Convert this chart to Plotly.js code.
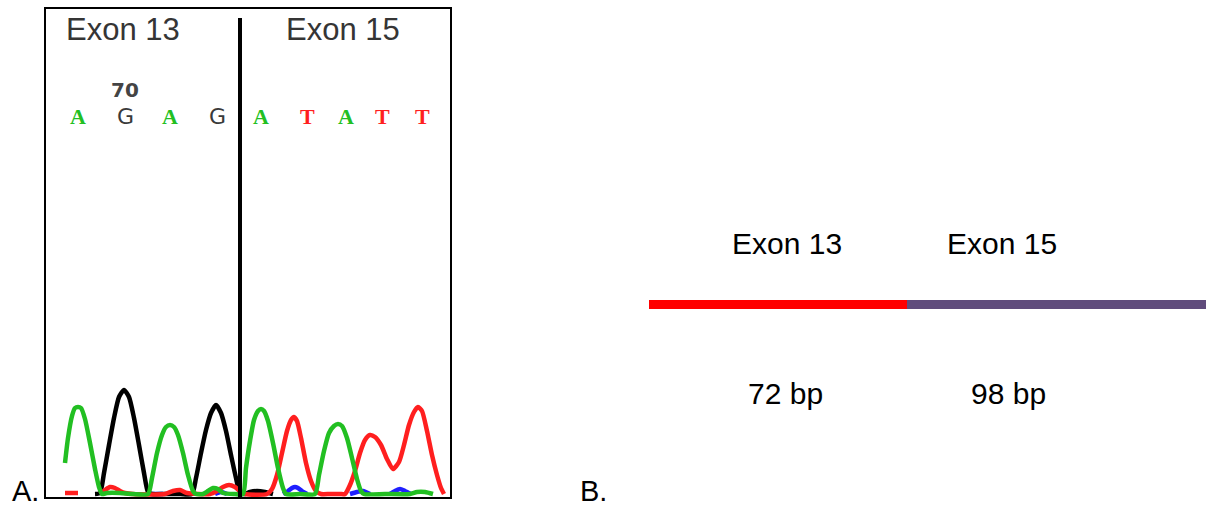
<!DOCTYPE html>
<html>
<head>
<meta charset="utf-8">
<script src="https://cdn.plot.ly/plotly-3.0.1.min.js"></script>
<style>
  html, body { margin: 0; padding: 0; background: #fff; }
  #chart { width: 1206px; height: 507px; }
</style>
</head>
<body>
<div id="chart"></div>
<script>
// ---- Panel A: sequencing trace across the exon 13 / exon 15 junction ----
// Dye channels: scan position vs. signal intensity (null = gap in the trace)
const greenScan   = [20, 23, 27, 30, 33, 36, 40, 45, 50, 54, 57, 62, 75, 88,
                     103, 107, 112, 117, 121, 125, 129, 133, 138, 143, 148, 151,
                     158, 163, 168, 173, 178, 190,
                     198, 201, 205, 209, 213, 216, 219, 223, 228, 233, 238, 241,
                     255, 270, 274, 279, 284, 289, 293, 297, 302, 307, 312, 316, 319,
                     340, 365, 372, 380, 388];
const greenSignal = [31, 56, 78, 86, 87, 86, 75, 51, 25, 7, 0, 1, 1, 0,
                     0, 16, 41, 59, 67, 69, 67, 59, 41, 19, 3, 0,
                     0, 3, 6, 5, 1, 0,
                     0, 26, 53, 74, 83, 85, 83, 73, 51, 26, 6, 0,
                     0, 0, 19, 43, 61, 68, 70, 68, 56, 36, 15, 3, 0,
                     0, 0, 2, 2, 0];

const blackScan   = [50, 55, 59, 64, 69, 74, 79, 84, 89, 94, 99, 103, 107,
                     120, 135,
                     147, 151, 156, 161, 166, 171, 176, 181, 186, 191, 195, 200,
                     205, 212, 220, 228];
const blackSignal = [0, 1, 21, 49, 76, 97, 104, 97, 76, 49, 21, 2, 0,
                     0, 0,
                     0, 16, 41, 64, 81, 89, 81, 63, 39, 16, 1, 0,
                     2, 3, 2, 0];

const redScan     = [20, 33, null,
                     55, 60, 65, 70, 75, 80, 88,
                     120, 128, 135, 142,
                     165, 172, 178, 184, 190, 195, 200,
                     222, 227, 232, 237, 242, 246, 249, 252, 256, 261, 266, 271, 276,
                     285, 295,
                     300, 305, 310, 315, 320, 325, 330, 336, 342, 348, 354, 359, 364, 369,
                     373, 377, 382, 387, 392, 396, 399];
const redSignal   = [1, 1, null,
                     0, 4, 7, 6, 3, 1, 0,
                     0, 3, 4, 1,
                     0, 3, 7, 9, 7, 3, 0,
                     0, 5, 19, 41, 63, 74, 77, 73, 56, 31, 13, 3, 0,
                     0, 0,
                     0, 9, 23, 41, 54, 59, 57, 49, 35, 25, 32, 49, 69, 82,
                     87, 83, 63, 39, 19, 6, 0];

const blueScan    = [105, 118, null,
                     170, 176, 182, null,
                     238, 243, 247, 250, 253, 257, 262, null,
                     305, 312, 318, 325, null,
                     345, 350, 355, 360, 366];
const blueSignal  = [0, 0, null,
                     0, 2, 0, null,
                     0, 3, 6, 7, 6, 3, 0, null,
                     0, 2, 3, 0, null,
                     0, 3, 5, 3, 0];

// Base calls and their scan positions
const baseCalls = ['A', 'G', 'A', 'G', 'A', 'T', 'A', 'T', 'T'];
const callScan  = [33, 80, 125, 172, 216, 262, 301, 337, 377];
const baseNumber = 70;          // numbering shown above the second call
const junctionScan = 195;       // exon 13 / exon 15 boundary

// ---- Panel B: fused transcript segments ----
const exonNames   = ['Exon 13', 'Exon 15'];
const exonLengths = [72, 98];   // bp

const dyeColor = { A: '#22bf22', G: '#3a3a3a', T: '#ff1f1f', C: '#1f1fff' };

function traceLine(x, y, color) {
  return {
    type: 'scatter', mode: 'lines', x: x, y: y,
    xaxis: 'x', yaxis: 'y',
    line: { color: color, width: 4.5, shape: 'spline', smoothing: 0.6 },
    connectgaps: false, hoverinfo: 'skip'
  };
}

const data = [
  traceLine(blueScan, blueSignal, dyeColor.C),
  traceLine(blackScan, blackSignal, '#000000'),
  traceLine(redScan, redSignal, dyeColor.T),
  traceLine(greenScan, greenSignal, dyeColor.A)
];

// Exon segments laid end to end
const exonColors = ['#ff0000', '#604c7c'];
let start = 0;
exonLengths.forEach(function (len, i) {
  data.push({
    type: 'scatter', mode: 'lines',
    x: [start, start + len], y: [0, 0],
    xaxis: 'x2', yaxis: 'y2',
    line: { color: exonColors[i], width: 9 },
    hoverinfo: 'skip'
  });
  start += len;
});

const annotations = [];

// Base call letters
baseCalls.forEach(function (b, i) {
  const serif = (b === 'A' || b === 'T');
  annotations.push({
    xref: 'x', yref: 'y', x: callScan[i], y: 377,
    text: serif ? '<b>' + b + '</b>' : b,
    showarrow: false, xanchor: 'center', yanchor: 'middle',
    font: {
      family: serif ? 'Liberation Serif' : 'DejaVu Sans',
      size: 22, color: dyeColor[b]
    }
  });
});
annotations.push({
  xref: 'x', yref: 'y', x: callScan[1], y: 404,
  text: '<b>' + baseNumber + '</b>', showarrow: false,
  xanchor: 'center', yanchor: 'middle',
  font: { family: 'DejaVu Sans', size: 20, color: '#444444' }
});

// Exon headings over the trace
const W = 1206, H = 507;
function px(x) { return x / W; }
function py(y) { return (H - y) / H; }
[[123, exonNames[0]], [343, exonNames[1]]].forEach(function (p) {
  annotations.push({
    xref: 'paper', yref: 'paper', x: px(p[0]), y: py(30),
    text: p[1], showarrow: false, xanchor: 'center', yanchor: 'middle',
    font: { family: 'Liberation Sans', size: 31, color: '#353535' }
  });
});

// Panel B labels
[[787, exonNames[0]], [1002, exonNames[1]]].forEach(function (p) {
  annotations.push({
    xref: 'paper', yref: 'paper', x: px(p[0]), y: py(243),
    text: p[1], showarrow: false, xanchor: 'center', yanchor: 'middle',
    font: { family: 'Liberation Sans', size: 30, color: '#000000' }
  });
});
[[785, exonLengths[0]], [1008, exonLengths[1]]].forEach(function (p) {
  annotations.push({
    xref: 'paper', yref: 'paper', x: px(p[0]), y: py(393),
    text: p[1] + ' bp', showarrow: false, xanchor: 'center', yanchor: 'middle',
    font: { family: 'Liberation Sans', size: 30, color: '#000000' }
  });
});

// Panel letters
[[25, 'A.'], [593, 'B.']].forEach(function (p) {
  annotations.push({
    xref: 'paper', yref: 'paper', x: px(p[0]), y: py(491),
    text: p[1], showarrow: false, xanchor: 'center', yanchor: 'middle',
    font: { family: 'Liberation Sans', size: 29, color: '#000000' }
  });
});

const bpPerPx = 72 / 258;
const layout = {
  width: W, height: H,
  margin: { l: 0, r: 0, t: 0, b: 0, pad: 0 },
  paper_bgcolor: '#ffffff', plot_bgcolor: '#ffffff',
  showlegend: false,
  xaxis: {
    domain: [46 / W, 450 / W], range: [1, 405],
    showgrid: false, zeroline: false, showticklabels: false, ticks: '',
    showline: true, mirror: true, linecolor: '#000000', linewidth: 2,
    fixedrange: true
  },
  yaxis: {
    domain: [(H - 497) / H, (H - 8.5) / H], range: [-3, 485.5],
    showgrid: false, zeroline: false, showticklabels: false, ticks: '',
    showline: true, mirror: true, linecolor: '#000000', linewidth: 2,
    fixedrange: true
  },
  xaxis2: {
    domain: [649 / W, 1], range: [0, (W - 649) * bpPerPx],
    anchor: 'y2', visible: false, fixedrange: true
  },
  yaxis2: {
    domain: [0, 1], range: [-(H - 304.5) / H, 304.5 / H],
    anchor: 'x2', visible: false, fixedrange: true
  },
  shapes: [{
    type: 'line', xref: 'x', yref: 'y',
    x0: junctionScan, x1: junctionScan, y0: -3, y1: 476,
    line: { color: '#000000', width: 4 }
  }],
  annotations: annotations
};

Plotly.newPlot('chart', data, layout, { displayModeBar: false, staticPlot: true });
</script>
</body>
</html>
